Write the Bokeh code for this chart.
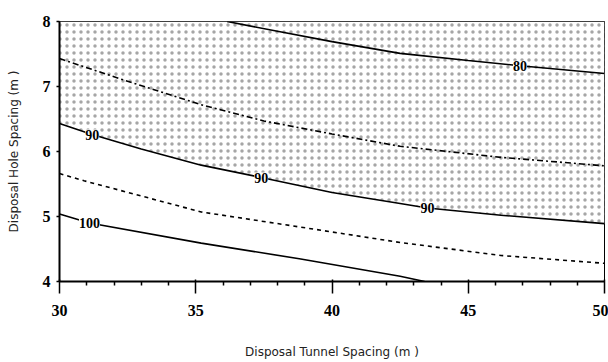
from bokeh.plotting import figure
from bokeh.models import Range1d, FixedTicker, ColumnDataSource, LabelSet
from bokeh.embed import file_html
from bokeh.resources import INLINE

# Axes
x_ticks = [30, 35, 40, 45, 50]
x_minor = [31, 32, 33, 34, 36, 37, 38, 39, 41, 42, 43, 44, 46, 47, 48, 49]
y_ticks = [4, 5, 6, 7, 8]

# Contour lines
c80_x = [36.15, 38.0, 40.0, 42.5, 45.0, 46.9, 50.0]
c80_y = [8.00, 7.85, 7.69, 7.51, 7.40, 7.32, 7.20]

c85_x = [30.0, 32.5, 35.2, 37.5, 40.0, 42.5, 46.2, 50.0]
c85_y = [7.43, 7.08, 6.72, 6.47, 6.27, 6.08, 5.91, 5.78]

c90_x = [30.0, 31.2, 33.0, 35.2, 37.4, 40.0, 42.5, 43.5, 46.2, 50.0]
c90_y = [6.43, 6.26, 6.04, 5.79, 5.60, 5.37, 5.20, 5.13, 5.02, 4.89]

c95_x = [30.0, 30.9, 35.2, 38.8, 42.5, 46.2, 50.0]
c95_y = [5.66, 5.55, 5.07, 4.84, 4.60, 4.40, 4.28]

c100_x = [30.0, 31.1, 35.2, 38.8, 42.5, 43.4]
c100_y = [5.04, 4.90, 4.59, 4.35, 4.08, 4.00]

# Contour labels
lab_text = ["100", "90", "90", "90", "80"]
lab_x = [31.1, 31.2, 37.4, 43.5, 46.9]
lab_y = [4.90, 6.26, 5.60, 5.13, 7.32]

y_top = y_ticks[-1]

p = figure(width=608, height=362, output_backend="svg", toolbar_location=None,
           x_range=Range1d(x_ticks[0], x_ticks[-1]), y_range=Range1d(y_ticks[0], y_ticks[-1]),
           min_border_left=59, min_border_right=4, min_border_top=21, min_border_bottom=81)
p.background_fill_color = "white"
p.border_fill_color = "white"
p.outline_line_color = "black"
p.outline_line_width = 1
p.xgrid.visible = False
p.ygrid.visible = False

# shaded acceptable region
p.varea(x=c90_x, y1=c90_y, y2=[y_top] * len(c90_x), fill_color="white",
        hatch_pattern="dot", hatch_color="#a6a6a6", hatch_scale=7, hatch_weight=0.5)

p.line(c80_x, c80_y, line_color="black", line_width=1.6)
p.line(c85_x, c85_y, line_color="black", line_width=1.6, line_dash="6 3 2 3")
p.line(c90_x, c90_y, line_color="black", line_width=1.6)
p.line(c95_x, c95_y, line_color="black", line_width=1.6, line_dash="4 4")
p.line(c100_x, c100_y, line_color="black", line_width=1.6)

src = ColumnDataSource(dict(x=lab_x, y=lab_y, t=lab_text))
p.add_layout(LabelSet(x="x", y="y", text="t", source=src, text_align="center",
                      text_baseline="middle", text_font="Liberation Sans Narrow",
                      text_font_style="bold", text_font_size="14px", text_color="black",
                      background_fill_color="white"))

tick_font = "Liberation Sans Narrow"
p.xaxis.ticker = FixedTicker(ticks=x_ticks, minor_ticks=x_minor)
p.yaxis.ticker = FixedTicker(ticks=y_ticks)
for ax in (p.xaxis[0], p.yaxis[0]):
    ax.axis_line_color = "black"
    ax.axis_line_width = 2
    ax.major_tick_line_color = "black"
    ax.major_tick_line_width = 1.5
    ax.major_label_text_font = tick_font
    ax.major_label_text_font_style = "bold"
    ax.major_label_text_font_size = "16px"
    ax.major_label_text_color = "black"
    ax.axis_label_text_font = "DejaVu Sans"
    ax.axis_label_text_font_style = "normal"
    ax.axis_label_text_font_size = "12px"
    ax.axis_label_text_color = "#222222"

p.xaxis.major_tick_out = 12
p.xaxis.major_tick_in = 2
p.xaxis.minor_tick_out = 4
p.xaxis.minor_tick_in = 0
p.xaxis.minor_tick_line_color = "black"
p.xaxis.minor_tick_line_width = 1.5
p.xaxis.major_label_standoff = 11
p.xaxis.axis_label = "Disposal Tunnel Spacing (m )"
p.xaxis.axis_label_standoff = 26

p.yaxis.major_tick_out = 3
p.yaxis.major_tick_in = 0
p.yaxis.minor_tick_line_color = None
p.yaxis.major_label_standoff = 6
p.yaxis.axis_label = "Disposal Hole Spacing (m )"
p.yaxis.axis_label_standoff = 19

open("out.html", "w").write(file_html(p, INLINE))
